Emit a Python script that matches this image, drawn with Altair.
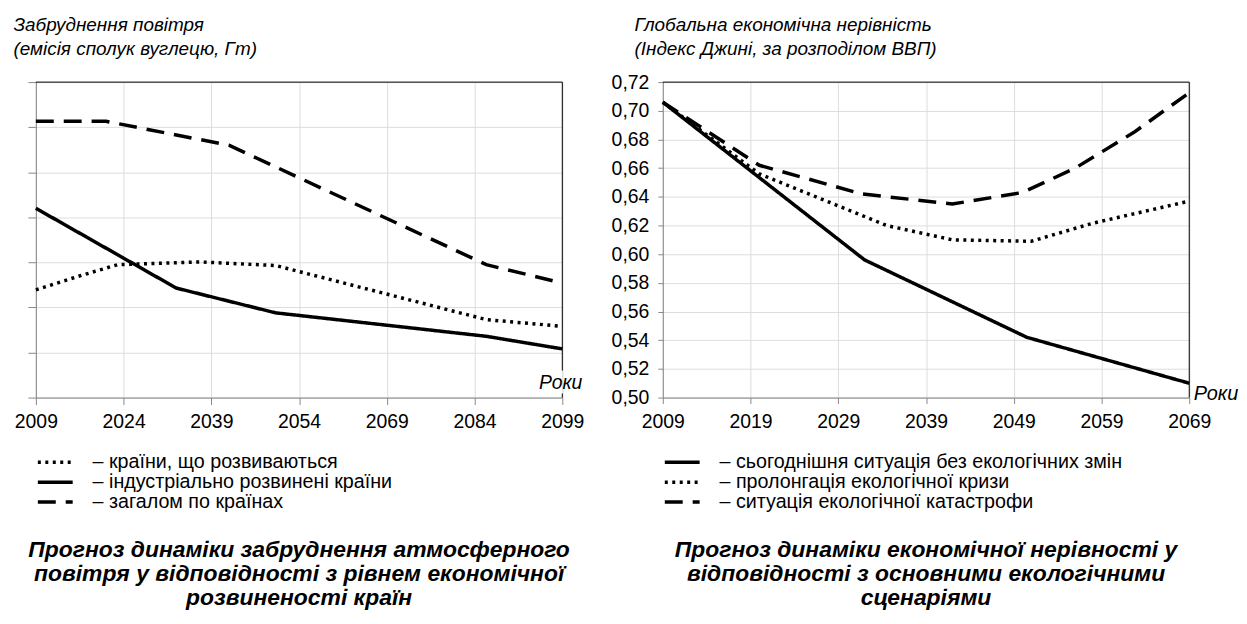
import altair as alt
import pandas as pd

FONT = "Liberation Sans"

# ---------------- Left panel: air pollution (arbitrary units, 0..7 ticks) ----------------
left_series = ["країни, що розвиваються", "індустріально розвинені країни", "загалом по країнах"]
left_years_dev = [2009, 2016, 2023, 2037, 2050, 2086, 2099]
left_vals_dev = [2.39, 2.68, 2.95, 3.01, 2.93, 1.73, 1.58]
left_years_ind = [2009, 2033, 2050, 2086, 2099]
left_vals_ind = [4.20, 2.43, 1.88, 1.36, 1.08]
left_years_tot = [2009, 2021, 2042, 2086, 2099]
left_vals_tot = [6.13, 6.13, 5.60, 2.95, 2.54]
left_ticks_x = [2009, 2024, 2039, 2054, 2069, 2084, 2099]
left_ticks_y = [0, 1, 2, 3, 4, 5, 6, 7]

# ---------------- Right panel: Gini index ----------------
right_series = ["сьогоднішня ситуація без екологічних змін", "пролонгація екологічної кризи",
                "ситуація екологічної катастрофи"]
right_years_now = [2009, 2032, 2050.5, 2069]
right_vals_now = [0.706, 0.596, 0.542, 0.510]
right_years_crisis = [2009, 2020, 2031.7, 2034.5, 2042, 2051, 2058, 2069]
right_vals_crisis = [0.706, 0.656, 0.627, 0.620, 0.610, 0.609, 0.6216, 0.637]
right_years_cat = [2009, 2020, 2031.7, 2042, 2050, 2056, 2062.7, 2069]
right_vals_cat = [0.706, 0.662, 0.642, 0.635, 0.643, 0.660, 0.685, 0.7126]
right_ticks_x = [2009, 2019, 2029, 2039, 2049, 2059, 2069]
right_ticks_y = [0.50, 0.52, 0.54, 0.56, 0.58, 0.60, 0.62, 0.64, 0.66, 0.68, 0.70, 0.72]

left_titles = ["Прогноз динаміки забруднення атмосферного",
               "повітря у відповідності з рівнем економічної",
               "розвиненості країн"]
right_titles = ["Прогноз динаміки економічної нерівності у",
                "відповідності з основними екологічними",
                "сценаріями"]

SOLID = [1, 0]
DOTTED = [3, 4.5]
DASHED = [18, 10]


def frame(names, years, vals):
    rows = []
    for n, ys, vs in zip(names, years, vals):
        for y, v in zip(ys, vs):
            rows.append({"year": y, "value": v, "series": n})
    return pd.DataFrame(rows)


df_left = frame(left_series, [left_years_dev, left_years_ind, left_years_tot],
                [left_vals_dev, left_vals_ind, left_vals_tot])
df_right = frame(right_series, [right_years_now, right_years_crisis, right_years_cat],
                 [right_vals_now, right_vals_crisis, right_vals_cat])


def legend(y):
    return alt.Legend(
        orient="none", legendX=0, legendY=y, title=None,
        symbolType="stroke", symbolSize=1225, symbolStrokeWidth=3.5,
        symbolStrokeColor="black", labelFont=FONT, labelFontSize=19.8,
        labelColor="black", labelOffset=18, rowPadding=0, labelLimit=0,
        clipHeight=20,
        labelExpr="'–  ' + datum.label", padding=0,
    )


def title(lines):
    return alt.TitleParams(
        text=lines, orient="bottom", anchor="middle", frame="group",
        font=FONT, fontSize=23, fontStyle="italic", fontWeight="bold",
        lineHeight=24, offset=27, color="black",
    )


W, H = 529, 317
dummy = pd.DataFrame({"a": [0]})

# ----- Left chart -----
lx = alt.X("year:Q", scale=alt.Scale(domain=[2009, 2099], nice=False, zero=False),
           axis=alt.Axis(values=left_ticks_x, format="d", tickSize=7, labelPadding=8,
                         labelFontSize=19.5, labelFlush=False, labelOverlap=False,
                         tickCount=20,
                         title="Роки", titleFontSize=19.5,
                         titleFontStyle="italic", titleFontWeight="normal",
                         titleX=505, titleY=-15, titleAlign="left",
                         titleBaseline="middle"))
ly = alt.Y("value:Q", scale=alt.Scale(domain=[0, 7], nice=False, zero=False),
           axis=alt.Axis(values=left_ticks_y, labels=False, tickSize=8, tickCount=20,
                         title=["Забруднення повітря", "(емісія сполук вуглецю, Гт)"],
                         titleAngle=0, titleAlign="left", titleBaseline="top",
                         titleX=-23, titleY=-67, titleFontSize=19,
                         titleFontStyle="italic", titleFontWeight="normal",
                         titleLineHeight=24))

left_lines = alt.Chart(df_left).mark_line(color="black", strokeWidth=3.5).encode(
    x=lx, y=ly,
    strokeDash=alt.StrokeDash("series:N",
                              scale=alt.Scale(domain=left_series, range=[DOTTED, SOLID, DASHED]),
                              legend=legend(372)),
    detail="series:N",
)
left_top = alt.Chart(dummy).mark_rule(color="black", strokeWidth=1).encode(
    x=alt.datum(2009), x2=alt.datum(2099), y=alt.datum(7))
left_right1 = alt.Chart(dummy).mark_rule(color="black", strokeWidth=1).encode(
    x=alt.datum(2099), y=alt.datum(7), y2=alt.datum(0.6))
left_right2 = alt.Chart(dummy).mark_rule(color="black", strokeWidth=1).encode(
    x=alt.datum(2099), y=alt.datum(0.09), y2=alt.datum(0))

left = alt.layer(left_lines, left_top, left_right1, left_right2).properties(
    width=W, height=H, title=title(left_titles))

# ----- Right chart -----
rx = alt.X("year:Q", scale=alt.Scale(domain=[2009, 2069], nice=False, zero=False),
           axis=alt.Axis(values=right_ticks_x, format="d", tickSize=6, labelPadding=9,
                         labelFontSize=19.5, labelFlush=False, labelOverlap=False,
                         tickCount=20,
                         title="Роки", titleFontSize=20,
                         titleFontStyle="italic", titleFontWeight="normal",
                         titleX=533, titleY=-4, titleAlign="left",
                         titleBaseline="middle"))
ry = alt.Y("value:Q", scale=alt.Scale(domain=[0.50, 0.72], nice=False, zero=False),
           axis=alt.Axis(values=right_ticks_y, tickSize=5, labelPadding=9, tickCount=20,
                         labelFontSize=19.5, labelFlush=False, labelOverlap=False,
                         labelExpr="replace(format(datum.value, '.2f'), '.', ',')",
                         title=["Глобальна економічна нерівність",
                                "(Індекс Джині, за розподілом ВВП)"],
                         titleAngle=0, titleAlign="left", titleBaseline="top",
                         titleX=-29, titleY=-67, titleFontSize=19,
                         titleFontStyle="italic", titleFontWeight="normal",
                         titleLineHeight=24))

right_lines = alt.Chart(df_right).mark_line(color="black", strokeWidth=3.5).encode(
    x=rx, y=ry,
    strokeDash=alt.StrokeDash("series:N",
                              scale=alt.Scale(domain=right_series, range=[SOLID, DOTTED, DASHED]),
                              legend=legend(372)),
    detail="series:N",
)
right_top = alt.Chart(dummy).mark_rule(color="black", strokeWidth=1).encode(
    x=alt.datum(2009), x2=alt.datum(2069), y=alt.datum(0.72))
right_right = alt.Chart(dummy).mark_rule(color="black", strokeWidth=1).encode(
    x=alt.datum(2069), y=alt.datum(0.72), y2=alt.datum(0.50))

right = alt.layer(right_lines, right_top, right_right).properties(
    width=W, height=H, title=title(right_titles))

chart = alt.hconcat(left, right, spacing=25).resolve_scale(
    strokeDash="independent", x="independent", y="independent"
).resolve_legend(strokeDash="independent").properties(
    padding={"left": 4, "top": 5, "right": 0, "bottom": 0},
    background="white",
).configure_view(stroke=None).configure_axis(
    grid=False, domainColor="black", tickColor="black", labelColor="black",
    titleColor="black", labelFont=FONT, titleFont=FONT, domainWidth=1, tickWidth=1,
).configure(font=FONT)

chart.save("out.html", embed_options={"renderer": "svg", "actions": False})
